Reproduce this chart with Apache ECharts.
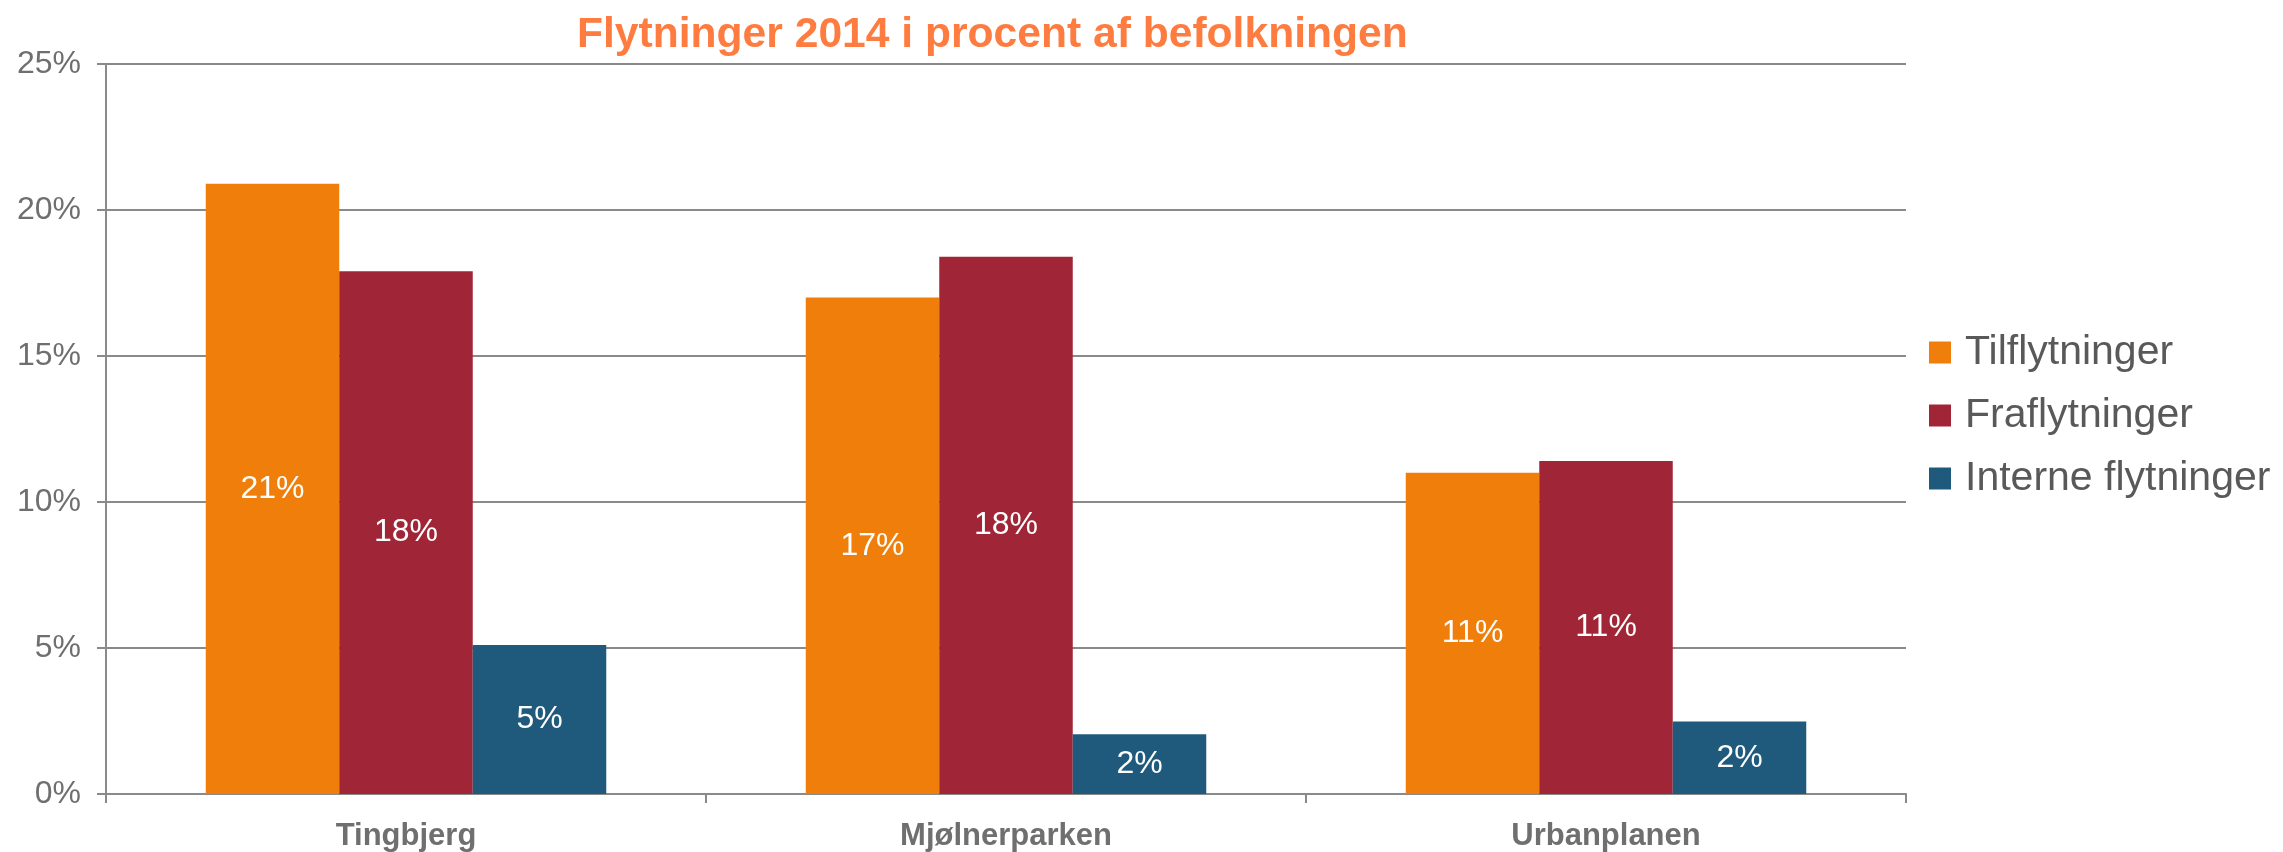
<!DOCTYPE html>
<html>
<head>
<meta charset="utf-8">
<title>Flytninger 2014</title>
<script src="https://cdn.jsdelivr.net/npm/echarts@6/dist/echarts.min.js"></script>
<style>
  html, body { margin: 0; padding: 0; background: #ffffff; }
  #chart { width: 2283px; height: 852px; }
</style>
</head>
<body>
<div id="chart"></div>
<script>
// Områder (kategorier)
const categories = ['Tingbjerg', 'Mjølnerparken', 'Urbanplanen'];

// Flytninger i procent af befolkningen
const tilflytninger = [20.9, 17.0, 11.0];
const fraflytninger = [17.9, 18.4, 11.4];
const interneFlytninger = [5.1, 2.05, 2.48];

const seriesNames = ['Tilflytninger', 'Fraflytninger', 'Interne flytninger'];
const seriesColors = ['#EF7F0A', '#A02637', '#1F5A7D'];

// y-akse
const yMin = 0;
const yMax = 25;
const yStep = 5;

const FONT = '"Liberation Sans", Arial, sans-serif';
const GRID_GRAY = '#8a8a8a';

const chart = echarts.init(document.getElementById('chart'), null, { renderer: 'canvas' });

const labelStyle = {
  show: true,
  position: 'inside',
  color: '#ffffff',
  fontFamily: FONT,
  fontSize: 32,
  formatter: p => Math.round(p.value) + '%'
};

function barSeries(name, data, color) {
  return {
    name: name,
    type: 'bar',
    data: data,
    barWidth: 133.5,
    barGap: '0%',
    itemStyle: { color: color },
    label: labelStyle,
    emphasis: { disabled: true }
  };
}

chart.setOption({
  animation: false,
  backgroundColor: '#ffffff',
  title: {
    text: 'Flytninger 2014 i procent af befolkningen',
    left: 577,
    top: 14,
    padding: 0,
    textStyle: {
      color: '#FF7C40',
      fontFamily: FONT,
      fontWeight: 'bold',
      fontSize: 42.6
    }
  },
  legend: {
    orient: 'vertical',
    left: 1924,
    top: 327,
    itemWidth: 22,
    itemHeight: 22,
    itemGap: 22,
    icon: 'rect',
    data: seriesNames,
    textStyle: {
      color: '#595959',
      fontFamily: FONT,
      fontSize: 41,
      lineHeight: 41,
      padding: [0, 0, 0, 9]
    }
  },
  grid: {
    left: 106,
    right: 377,
    top: 64,
    bottom: 54,
    containLabel: false
  },
  xAxis: {
    type: 'category',
    data: categories,
    boundaryGap: true,
    axisLine: { show: true, lineStyle: { color: GRID_GRAY, width: 2 } },
    axisTick: { show: true, length: 9, interval: 0, lineStyle: { color: GRID_GRAY, width: 2 } },
    axisLabel: {
      color: '#6f6f6f',
      fontFamily: FONT,
      fontWeight: 'bold',
      fontSize: 31,
      margin: 27
    }
  },
  yAxis: {
    type: 'value',
    min: yMin,
    max: yMax,
    interval: yStep,
    axisLine: { show: true, lineStyle: { color: GRID_GRAY, width: 2 } },
    axisTick: { show: true, length: 9, lineStyle: { color: GRID_GRAY, width: 2 } },
    splitLine: { show: true, lineStyle: { color: GRID_GRAY, width: 2 } },
    axisLabel: {
      color: '#6f6f6f',
      fontFamily: FONT,
      fontSize: 32,
      margin: 25,
      formatter: '{value}%'
    }
  },
  series: [
    barSeries(seriesNames[0], tilflytninger, seriesColors[0]),
    barSeries(seriesNames[1], fraflytninger, seriesColors[1]),
    barSeries(seriesNames[2], interneFlytninger, seriesColors[2])
  ]
});
</script>
</body>
</html>
